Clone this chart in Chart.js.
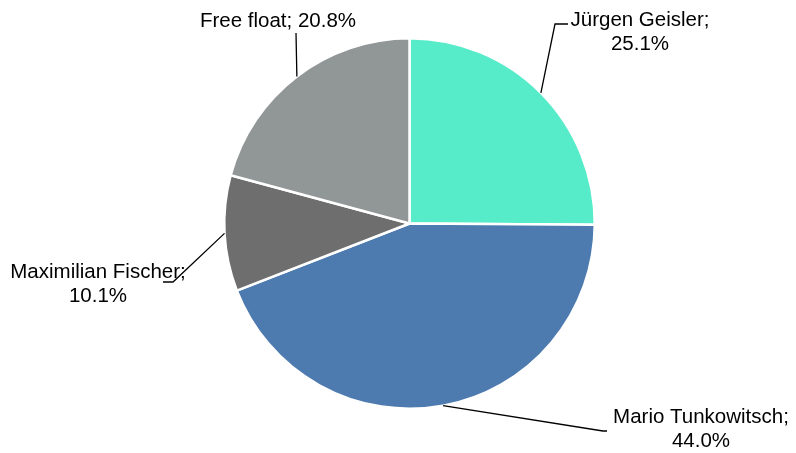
<!DOCTYPE html>
<html>
<head>
<meta charset="utf-8">
<script src="https://cdn.jsdelivr.net/npm/chart.js@4/dist/chart.umd.min.js"></script>
<style>
  html, body { margin: 0; padding: 0; background: #fff; }
  #wrap { width: 796px; height: 453px; }
</style>
</head>
<body>
<div id="wrap"><canvas id="stat" width="796" height="453"></canvas></div>
<script>
const owners = ["Jürgen Geisler", "Mario Tunkowitsch", "Maximilian Fischer", "Free float"];
const shares = [25.1, 44.0, 10.1, 20.8];
const sliceColors = ["#56EBC9", "#4E7BAF", "#6E6E6E", "#919696"];

// where each label sits, and the bend of its leader line
const labelSpots = [
  { x: 640, y: 20, bend: [[555, 24], [568, 24]], lines: 2 },
  { x: 701, y: 417, bend: [[603, 431], [607, 431]], lines: 2 },
  { x: 98, y: 272, bend: [[173, 282], [163, 282]], lines: 2 },
  { x: 278, y: 21, bend: [[296, 33]], lines: 1 },
];

const leaderLabels = {
  id: "leaderLabels",
  afterDatasetsDraw(chart) {
    const ctx = chart.ctx;
    const arcs = chart.getDatasetMeta(0).data;
    ctx.save();
    ctx.strokeStyle = "#000";
    ctx.lineWidth = 1.3;
    ctx.fillStyle = "#000";
    ctx.font = "20.5px 'Liberation Sans', Arial, sans-serif";
    ctx.textAlign = "center";
    ctx.textBaseline = "middle";
    arcs.forEach((arc, i) => {
      const mid = (arc.startAngle + arc.endAngle) / 2;
      const r = arc.outerRadius;
      const sx = arc.x + Math.cos(mid) * r;
      const sy = arc.y + Math.sin(mid) * r;
      const spot = labelSpots[i];
      ctx.beginPath();
      ctx.moveTo(sx, sy);
      spot.bend.forEach(p => ctx.lineTo(p[0], p[1]));
      ctx.stroke();
      const pct = shares[i].toFixed(1) + "%";
      if (spot.lines === 1) {
        ctx.fillText(owners[i] + "; " + pct, spot.x, spot.y);
      } else {
        ctx.fillText(owners[i] + ";", spot.x, spot.y);
        ctx.fillText(pct, spot.x, spot.y + 24.5);
      }
    });
    ctx.restore();
  }
};

const chart = new Chart(document.getElementById("stat"), {
  type: "pie",
  data: {
    labels: owners,
    datasets: [{
      data: shares,
      backgroundColor: sliceColors,
      borderColor: "#fff",
      borderWidth: 2.5,
    }],
  },
  options: {
    responsive: false,
    animation: false,
    layout: { padding: { left: 223, right: 200, top: 37, bottom: 43 } },
    plugins: {
      legend: { display: false },
      tooltip: { enabled: false },
    },
  },
  plugins: [leaderLabels],
});
</script>
</body>
</html>
